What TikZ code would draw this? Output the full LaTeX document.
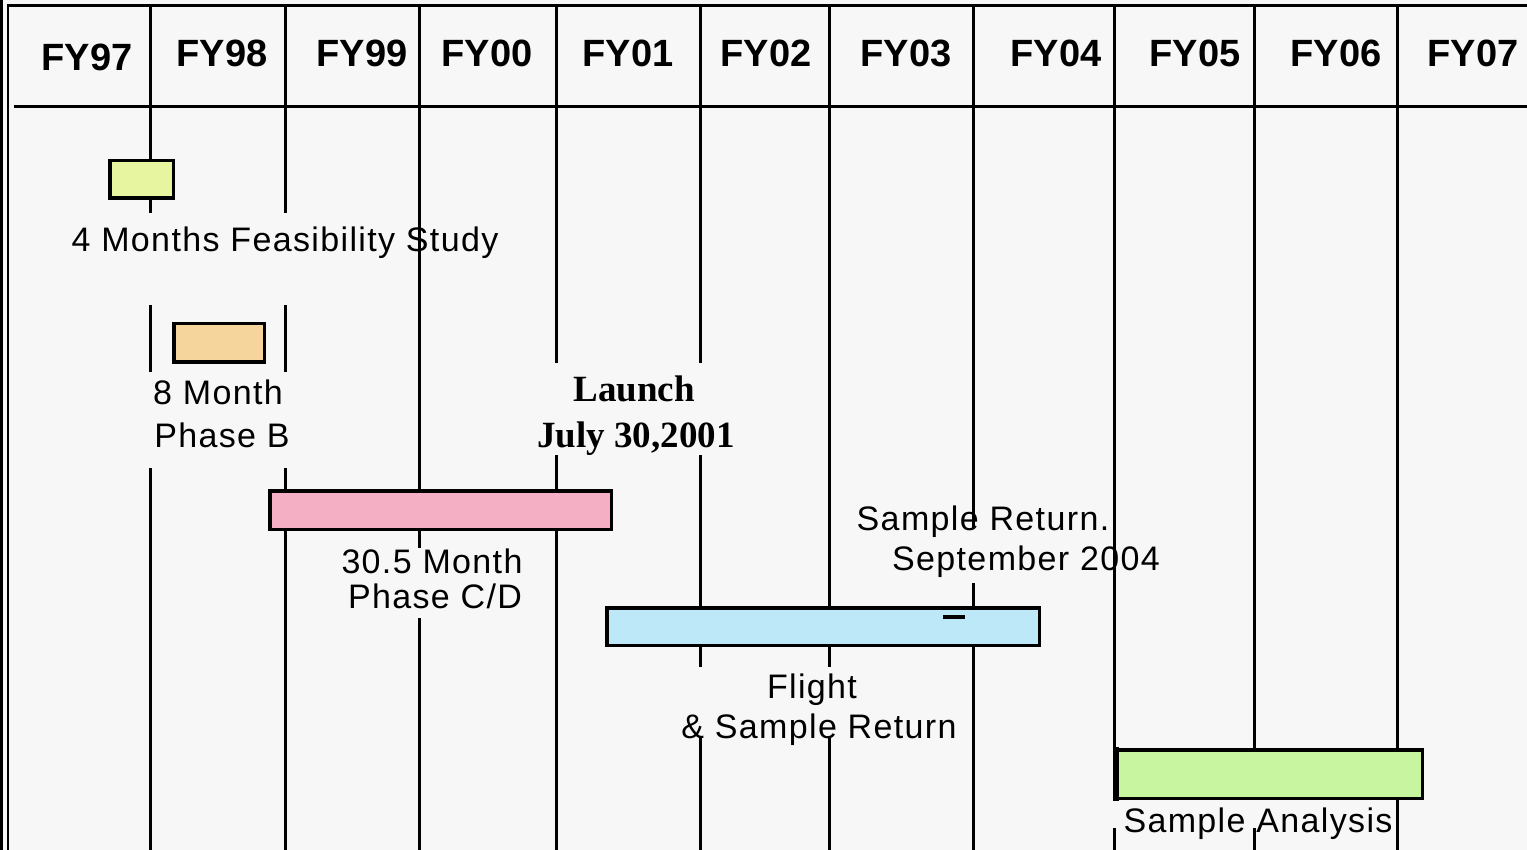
\documentclass[tikz,border=0pt]{standalone}
\usepackage{fontspec}
\setmainfont{Liberation Sans}
\newfontfamily\lblfont[LetterSpace=4]{Liberation Sans}
\newfontfamily\launchfont{Liberation Serif}
\usepackage{tikz}

\definecolor{bgcol}{RGB}{247,247,247}
\definecolor{feascol}{RGB}{232,245,160}
\definecolor{phbcol}{RGB}{245,213,156}
\definecolor{phcdcol}{RGB}{244,175,196}
\definecolor{flightcol}{RGB}{189,232,248}
\definecolor{anacol}{RGB}{200,245,160}

\tikzset{
  yearline/.style={line width=3pt},
  bar/.style={rectangle, draw, line width=3.5pt, inner sep=0pt},
  yr/.style={font=\fontsize{38}{40}\selectfont\bfseries, anchor=base},
  lbl/.style={font=\lblfont\fontsize{34}{40}\selectfont, anchor=base, inner sep=0pt},
  launch/.style={font=\launchfont\fontsize{37}{40}\selectfont\bfseries, anchor=base, inner sep=0pt}
}

\begin{document}
\begin{tikzpicture}[x=1pt, y=-1pt]
		\useasboundingbox (0,0) rectangle (1527,850);
		\fill[bgcol] (0,0) rectangle (1527,850);
		% frame and header
		\draw[line width=3.5pt] (1.5,0) -- (1.5,850);
		\draw[line width=2.5pt] (8,850) -- (8,5.5) -- (1527,5.5);
		\draw[yearline] (14,107) -- (1527,107);
		% year columns, broken where the labels sit
		\draw[yearline] (150,6) -- (150,213) (150,305) -- (150,372) (150,468) -- (150,850);
		\draw[yearline] (285,6) -- (285,213) (285,305) -- (285,372) (285,468) -- (285,850);
		\draw[yearline] (419,6) -- (419,548) (419,618) -- (419,850);
		\draw[yearline] (556,6) -- (556,363) (556,455) -- (556,850);
		\draw[yearline] (700,6) -- (700,363) (700,455) -- (700,667) (700,738) -- (700,850);
		\draw[yearline] (829,6) -- (829,667) (829,738) -- (829,850);
		\draw[yearline] (973,6) -- (973,528) (973,583) -- (973,850);
		\draw[yearline] (1114,6) -- (1114,800) (1114,828) -- (1114,850);
		\draw[yearline] (1254,6) -- (1254,800) (1254,828) -- (1254,850);
		\draw[yearline] (1397,6) -- (1397,850);
		% fiscal years
		\path (87,71) node[yr](fy97){FY97}
		(222,67) node[yr](fy98){FY98}
		(362,67) node[yr](fy99){FY99}
		(487,67) node[yr](fy00){FY00}
		(628,67) node[yr](fy01){FY01}
		(766,67) node[yr](fy02){FY02}
		(906,67) node[yr](fy03){FY03}
		(1056,67) node[yr](fy04){FY04}
		(1195,67) node[yr](fy05){FY05}
		(1336,67) node[yr](fy06){FY06}
		(1473,67) node[yr](fy07){FY07};
		% phases
		\path (141.5,179.5) node[bar, fill=feascol, minimum width=63.5pt, minimum height=37.5pt](feas){}
		(219,343) node[bar, fill=phbcol, minimum width=90.5pt, minimum height=38.5pt](phb){}
		(440.5,510) node[bar, fill=phcdcol, minimum width=341.5pt, minimum height=38.5pt](phcd){}
		(823,626.5) node[bar, fill=flightcol, minimum width=432.5pt, minimum height=37.5pt](flight){}
		(1269.5,774) node[bar, fill=anacol, minimum width=305.5pt, minimum height=48.5pt](ana){};
		\draw[line width=3.5pt] (943,617) -- (965,617);
		\draw[line width=6pt] (1116,747) -- (1116,801);
		% labels
		\path (285,252) node[lbl](feaslbl){4 Months Feasibility Study}
		(218,405) node[lbl](phblbla){8 Month}
		(222,447) node[lbl](phblblb){Phase B}
		(634,402) node[launch](launcha){Launch}
		(636,447) node[launch](launchb){July 30,2001}
		(432,573) node[lbl](phcdlbla){30.5 Month}
		(435,608) node[lbl](phcdlblb){Phase C/D}
		(983,530) node[lbl](reta){Sample Return.}
		(1026,570) node[lbl](retb){September 2004}
		(812,698) node[lbl](flightlbla){Flight}
		(819,738) node[lbl](flightlblb){\& Sample Return}
		(1258,832) node[lbl](analbl){Sample Analysis};
	\end{tikzpicture}
\end{document}
